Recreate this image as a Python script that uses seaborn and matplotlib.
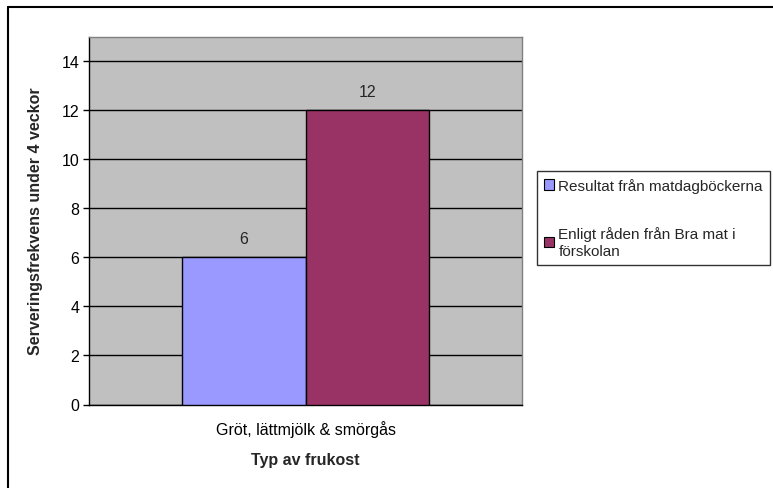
import matplotlib
matplotlib.use("Agg")
import matplotlib.pyplot as plt
from matplotlib.lines import Line2D
from matplotlib.patches import Patch
import seaborn as sns
import pandas as pd

categories = ["Gröt, lättmjölk & smörgås"]
series_names = ["Resultat från matdagböckerna", "Enligt råden från Bra mat i\nförskolan"]
series_values = [[6], [12]]
colors = ["#9999FF", "#993366"]
yticks = [0, 2, 4, 6, 8, 10, 12, 14]

rows = []
for name, vals in zip(series_names, series_values):
    for cat, v in zip(categories, vals):
        rows.append({"Typ": cat, "Serie": name, "Antal": v})
df = pd.DataFrame(rows)

sns.set_theme(style="white")
plt.rcParams["font.family"] = ["Liberation Sans", "DejaVu Sans"]

FS = 11.5
W, H = 773, 489
fig = plt.figure(figsize=(W / 100, H / 100), dpi=100)
ax = fig.add_axes([89 / W, 1 - 405.5 / H, (522 - 89) / W, (405.5 - 37.5) / H])

sns.barplot(data=df, x="Typ", y="Antal", hue="Serie", palette=colors,
            width=0.57, edgecolor="black", linewidth=1.0, saturation=1,
            legend=False, ax=ax, zorder=3)

ax.set_facecolor("#C0C0C0")
ax.set_ylim(0, 15)
ax.set_xlim(-0.5, 0.5)
ax.set_yticks(yticks)
ax.set_yticklabels([str(t) for t in yticks], fontsize=FS)
ax.yaxis.grid(True, color="black", linewidth=1.0, zorder=1)
ax.set_axisbelow(True)
ax.tick_params(axis="y", direction="out", length=4, width=1, color="black",
               left=True, pad=3, labelcolor="black")
ax.tick_params(axis="x", length=0, pad=11, labelsize=FS, labelcolor="black")

for side in ["top", "right"]:
    ax.spines[side].set_color("#808080")
    ax.spines[side].set_linewidth(1.0)
for side in ["left", "bottom"]:
    ax.spines[side].set_color("black")
    ax.spines[side].set_linewidth(1.0)

ax.set_xlabel("Typ av frukost", fontsize=FS, fontweight="bold", labelpad=11)
ax.set_ylabel("Serveringsfrekvens under 4 veckor", fontsize=FS,
              fontweight="bold", labelpad=13)

for cont in ax.containers:
    ax.bar_label(cont, fmt="%g", padding=8, fontsize=FS)

handles = [Patch(facecolor=c, edgecolor="black", linewidth=0.8) for c in colors]
leg = fig.legend(handles, series_names, loc="upper left",
                 bbox_to_anchor=(537 / W, 1 - 172 / H), frameon=True,
                 fontsize=11, handlelength=0.65, handleheight=0.65,
                 handletextpad=0.3, labelspacing=2.2, borderpad=0.45,
                 borderaxespad=0, fancybox=False)
leg.get_frame().set_edgecolor("black")
leg.get_frame().set_linewidth(1.0)

# outer chart frame (left and top edges)
fig.add_artist(Line2D([8 / W, 8 / W], [0, 1 - 8 / H], color="black", linewidth=1.5))
fig.add_artist(Line2D([8 / W, 1], [1 - 8 / H, 1 - 8 / H], color="black", linewidth=1.5))

fig.savefig("out.png", dpi=100, facecolor="white")
